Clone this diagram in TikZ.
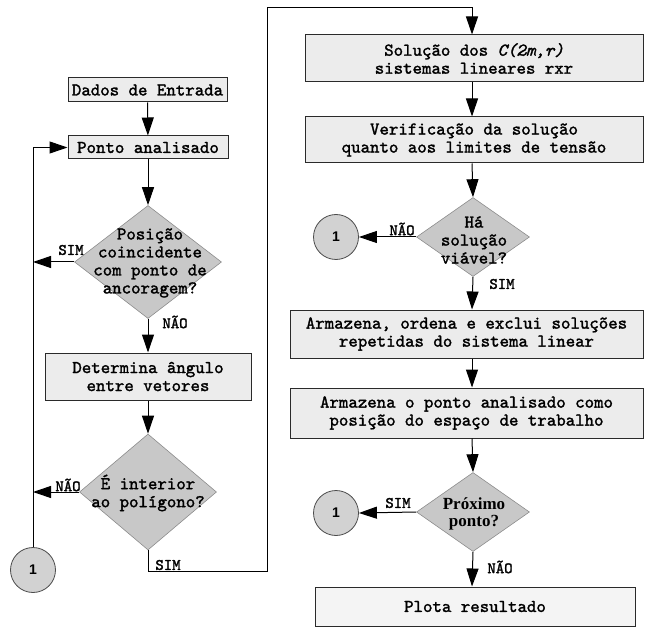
\documentclass[tikz,border=0pt]{standalone}
\usepackage{fontspec}
\setmonofont{lmmono10-regular.otf}[ItalicFont=lmmono10-italic.otf, BoldFont=lmmono10-regular.otf, BoldFeatures={FakeBold=1.6}, BoldItalicFont=lmmono10-italic.otf, BoldItalicFeatures={FakeBold=1.6}]
\newfontfamily\timesf{Liberation Serif}
\newfontfamily\arialf{Liberation Sans}
\usetikzlibrary{shapes.geometric,arrows.meta}
\definecolor{boxgray}{HTML}{ECECEC}
\definecolor{diagray}{HTML}{C8C8C8}
\definecolor{circgray}{HTML}{D2D2D2}
\definecolor{plotgray}{HTML}{F4F4F4}
\definecolor{edgegray}{HTML}{2A2A2A}
\tikzset{
  procbox/.style={draw=edgegray, fill=boxgray, line width=1pt, inner sep=0pt,
    font=\ttfamily\bfseries\fontsize{18}{18}\selectfont, align=center},
  decis/.style={draw=diagray!70!black, fill=diagray, line width=0.6pt, diamond, inner sep=0pt, aspect=1},
  dtext/.style={font=\ttfamily\bfseries\fontsize{18}{18}\selectfont, align=center, inner sep=0pt},
  conn/.style={circle, draw=black!70, fill=circgray, line width=0.8pt, minimum size=45pt, inner sep=0pt,
    font=\arialf\bfseries\fontsize{14}{16}\selectfont},
  lbl/.style={font=\ttfamily\bfseries\fontsize{16}{16}\selectfont, inner sep=0pt},
  arr/.style={line width=1pt, -{Triangle[length=18pt,width=12pt]}},
  ln/.style={line width=1pt}
}
\begin{document}
\begin{tikzpicture}[x=1pt,y=-1pt]
\useasboundingbox (0,0) rectangle (645,628);
% left column
\node[procbox, minimum width=159pt, minimum height=24pt] (dados) at (147.5,90) {Dados de Entrada};
\node[procbox, minimum width=160pt, minimum height=23pt] (ponto) at (148,147.5) {Ponto analisado};
\node[decis, minimum width=147pt, minimum height=113pt] (d1) at (148,262) {};
\node[dtext] (t1) at (150,263) {Posição\\coincidente\\com ponto de\\ancoragem?};
\node[procbox, minimum width=206pt, minimum height=47pt] (determ) at (148,376.5) {Determina ângulo\\entre vetores};
\node[decis, minimum width=137pt, minimum height=116pt] (d2) at (148,492) {};
\node[dtext] (t2) at (148,493) {É interior\\ao polígono?};
\node[conn] (c0) at (33,570) {1};
% right column
\coordinate (spine) at (472,0);
\node[procbox, minimum width=338pt, minimum height=47pt] (sol) at (474,58.5) {Solução dos \textit{C(2m,r)}\\sistemas lineares rxr};
\node[procbox, minimum width=338pt, minimum height=46pt] (verif) at (474,140) {Verificação da solução\\quanto aos limites de tensão};
\node[decis, minimum width=113pt, minimum height=79pt] (d3) at (473,237) {};
\node[dtext] (t3) at (474,240) {Há\\solução\\viável?};
\node[conn] (c1) at (336,237) {1};
\node[procbox, minimum width=353pt, minimum height=48pt] (arm1) at (466.5,334) {Armazena, ordena e exclui soluções\\repetidas do sistema linear};
\node[procbox, minimum width=353pt, minimum height=50pt] (arm2) at (466.5,413) {Armazena o ponto analisado como\\posição do espaço de trabalho};
\node[decis, minimum width=113pt, minimum height=79pt] (d4) at (473,512) {};
\node[dtext, font=\timesf\bfseries\fontsize{17}{17}\selectfont] (t4) at (474,514) {Próximo\\ponto?};
\node[conn] (c2) at (336,513) {1};
\node[procbox, fill=plotgray, minimum width=320pt, minimum height=39pt] (plota) at (475,606.5) {Plota resultado};
% connectors left
\draw[arr] (dados) -- (ponto);
\draw[arr] (ponto) -- (d1);
\draw[arr] (d1) -- (determ);
\draw[arr] (determ) -- (d2);
\draw[arr] (d1.west) -- (d1.west -| c0);
\draw[arr] (d2.west) -- (d2.west -| c0);
\draw[arr] (c0.north) |- (ponto.west);
\coordinate (k1) at (267,571);
\coordinate (k2) at (267,8);
\draw[arr] (d2.south) |- (k1) -- (k2) -| (sol.north -| spine);
% connectors right
\draw[arr] (sol.south -| spine) -- (verif.north -| spine);
\draw[arr] (verif.south -| spine) -- (d3.north);
\draw[arr] (d3.south) -- (arm1.north -| spine);
\draw[arr] (arm1.south -| spine) -- (arm2.north -| spine);
\draw[arr] (arm2.south -| spine) -- (d4.north);
\draw[arr] (d4.south) -- (plota.north -| spine);
\draw[arr] (d3.west) -- (c1.east);
\draw[arr] (d4.west) -- (c2.east);
% labels
\node[lbl] (l1) at (71,250) {SIM};
\node[lbl] (l2) at (175,322) {NÃO};
\node[lbl] (l3) at (68,485) {NÃO};
\node[lbl] (l4) at (168,565) {SIM};
\node[lbl] (l5) at (402,229) {NÃO};
\node[lbl] (l6) at (502,284) {SIM};
\node[lbl] (l7) at (398,503) {SIM};
\node[lbl] (l8) at (500,567) {NÃO};
\end{tikzpicture}
\end{document}
